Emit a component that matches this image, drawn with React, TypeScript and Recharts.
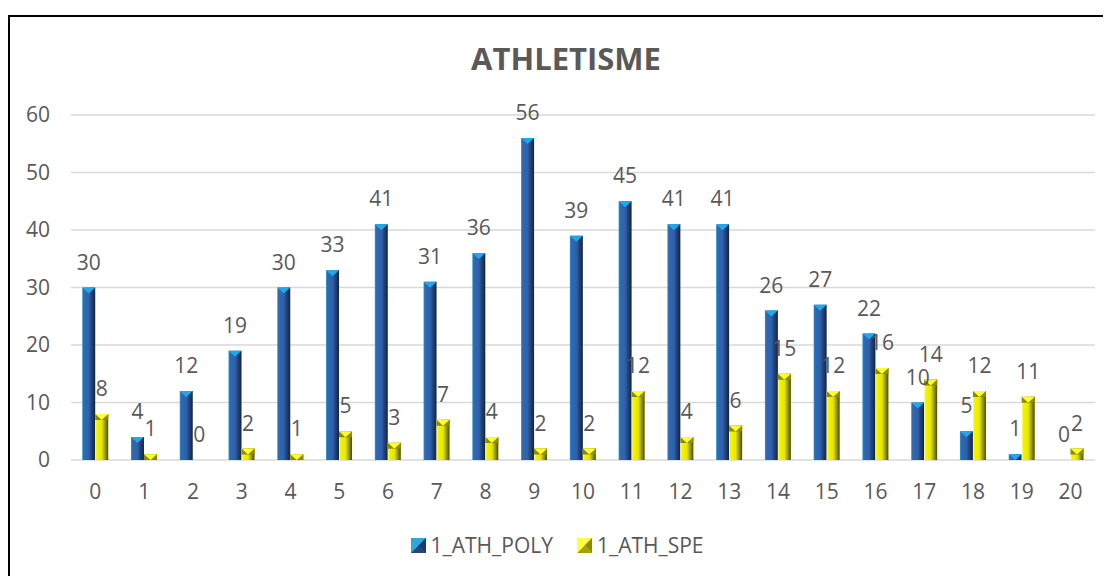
import React from "react";
import { BarChart, Bar, XAxis, YAxis, CartesianGrid, Legend, LabelList } from "recharts";

const categories = ["0","1","2","3","4","5","6","7","8","9","10","11","12","13","14","15","16","17","18","19","20"];
const polyValues = [30, 4, 12, 19, 30, 33, 41, 31, 36, 56, 39, 45, 41, 41, 26, 27, 22, 10, 5, 1, 0];
const speValues = [8, 1, 0, 2, 1, 5, 3, 7, 4, 2, 2, 12, 4, 6, 15, 12, 16, 14, 12, 11, 2];
const yTicks = [0, 10, 20, 30, 40, 50, 60];
const seriesNames = ["1_ATH_POLY", "1_ATH_SPE"];

const data = categories.map((c, i) => ({ cat: c, poly: polyValues[i], spe: speValues[i] }));

const FONT = "'Open Sans', 'Liberation Sans', sans-serif";
const TXT = "#595959";

const styles: Record<string, { stops: [number, string][]; cap: string; capBg?: string }> = {
  poly: {
    stops: [
      [0, "#26a6dc"],
      [0.1, "#3068b4"],
      [0.5, "#3061aa"],
      [0.7, "#24467a"],
      [1, "#122441"],
    ],
    cap: "#1fa8ea",
  },
  spe: {
    stops: [
      [0, "#ffffa0"],
      [0.12, "#f4f400"],
      [0.5, "#e8e800"],
      [0.72, "#a3a300"],
      [1, "#4a4a00"],
    ],
    cap: "#ffff30",
    capBg: "#8c8c00",
  },
};

const makeShape = (kind: string) => (props: any) => {
  const { x, y, width, height } = props;
  const st = styles[kind];
  if (!height || height <= 0 || !width) return <g />;
  const cap = Math.min(6, height);
  const gid = `grad-${kind}`;
  return (
    <g>
      <defs>
        <linearGradient id={gid} x1="0" y1="0" x2="1" y2="0">
          {st.stops.map(([o, c], i) => (
            <stop key={i} offset={o} stopColor={c} />
          ))}
        </linearGradient>
      </defs>
      <rect x={x} y={y} width={width} height={height} fill={`url(#${gid})`} />
      {st.capBg && <rect x={x} y={y} width={width} height={cap} fill={st.capBg} />}
      <polygon
        points={`${x},${y} ${x + width},${y} ${x + width / 2},${y + cap}`}
        fill={st.cap}
      />
    </g>
  );
};

const LegendMarker = ({ kind }: { kind: string }) => {
  const st = styles[kind];
  const dark = kind === "poly" ? "#1b3a6e" : "#8a8a00";
  const light = kind === "poly" ? "#2fa8e0" : "#ffff40";
  return (
    <svg width={15} height={15} style={{ display: "block" }}>
      <rect x={0} y={0} width={15} height={15} fill={st.stops[2][1]} />
      <polygon points="0,0 15,0 7.5,7.5" fill={light} />
      <polygon points="15,0 15,15 7.5,7.5" fill={dark} />
      <polygon points="0,15 15,15 7.5,7.5" fill={st.stops[3][1]} />
      <polygon points="0,0 0,15 7.5,7.5" fill={light} />
    </svg>
  );
};

const renderLegend = () => (
  <div
    style={{
      height: 24,
      display: "flex",
      justifyContent: "center",
      alignItems: "center",
      fontFamily: FONT,
      fontSize: 21,
      color: TXT,
      paddingRight: 6,
    }}
  >
    {["poly", "spe"].map((k, i) => (
      <div key={k} style={{ display: "flex", alignItems: "center", marginLeft: i ? 24 : 0 }}>
        <LegendMarker kind={k} />
        <span style={{ marginLeft: 5 }}>{seriesNames[i]}</span>
      </div>
    ))}
  </div>
);

export default function App() {
  return (
    <div style={{ position: "relative", width: 1103, height: 568, overflow: "hidden", background: "#fff" }}>
      <div
        style={{
          position: "absolute",
          top: 7,
          left: 0,
          width: 1200,
          height: 640,
          borderTop: "2px solid #000",
          borderLeft: "2px solid #000",
          background: "#fff",
        }}
      >
        <div
          style={{
            position: "absolute",
            top: 20,
            left: 0,
            width: 1112,
            textAlign: "center",
            fontFamily: FONT,
            fontWeight: 700,
            fontSize: 31,
            color: TXT,
            lineHeight: "normal",
          }}
        >
          ATHLETISME
        </div>
        <BarChart
          width={1100}
          height={560}
          data={data}
          margin={{ top: 98, right: 15, bottom: 10, left: 16 }}
          barCategoryGap="23%"
          barGap={0}
        >
          <CartesianGrid vertical={false} stroke="#d9d9d9" strokeWidth={1.5} />
          <XAxis
            dataKey="cat"
            axisLine={false}
            tickLine={false}
            tickSize={0}
            tickMargin={24}
            height={83}
            interval={0}
            tick={{ fill: TXT, fontSize: 21, fontFamily: FONT }}
          />
          <YAxis
            domain={[0, 60]}
            ticks={yTicks}
            axisLine={false}
            tickLine={false}
            tickSize={0}
            tickMargin={21}
            width={45}
            tick={{ fill: TXT, fontSize: 21, fontFamily: FONT }}
          />
          <Legend
            verticalAlign="bottom"
            content={renderLegend}
            wrapperStyle={{ top: 516, bottom: "auto", left: 0, width: 1100 }}
          />
          <Bar dataKey="poly" name={seriesNames[0]} fill="#3061aa" isAnimationActive={false} shape={makeShape("poly")}>
            <LabelList dataKey="poly" position="top" offset={18} fill={TXT} fontSize={21} fontFamily={FONT} />
          </Bar>
          <Bar dataKey="spe" name={seriesNames[1]} fill="#e8e800" isAnimationActive={false} shape={makeShape("spe")}>
            <LabelList dataKey="spe" position="top" offset={18} fill={TXT} fontSize={21} fontFamily={FONT} />
          </Bar>
        </BarChart>
      </div>
    </div>
  );
}
